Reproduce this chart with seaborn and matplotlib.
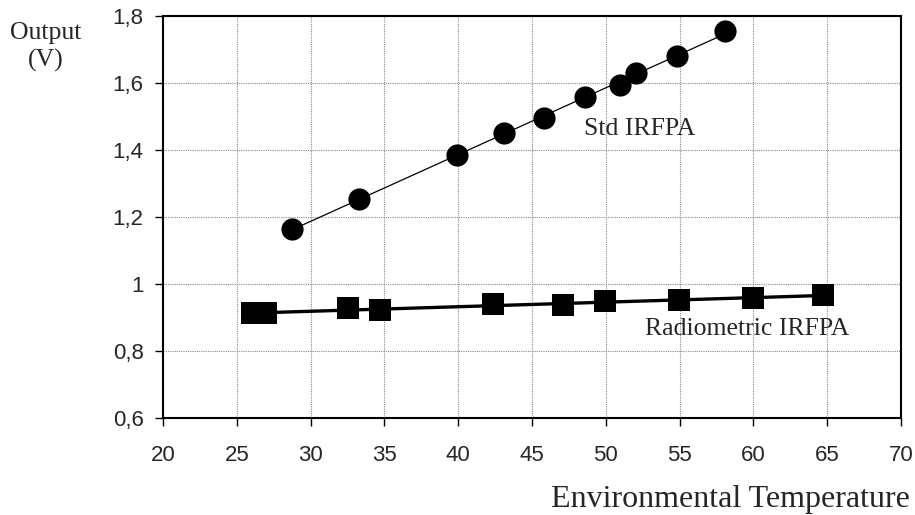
import numpy as np
import pandas as pd
import matplotlib
matplotlib.use("Agg")
import matplotlib.pyplot as plt
import seaborn as sns

# ---- data ----
std_temp = [28.75, 33.25, 39.93, 43.12, 45.8, 48.6, 50.94, 52.05, 54.82, 58.08]
std_out = [1.164, 1.254, 1.384, 1.450, 1.497, 1.557, 1.594, 1.630, 1.682, 1.754]
rad_temp = [26.0, 26.96, 32.56, 34.71, 42.34, 47.07, 49.93, 54.99, 59.97, 64.7]
rad_out = [0.912, 0.912, 0.928, 0.921, 0.941, 0.936, 0.949, 0.953, 0.957, 0.966]
x_ticks = [20, 25, 30, 35, 40, 45, 50, 55, 60, 65, 70]
y_ticks = [0.6, 0.8, 1.0, 1.2, 1.4, 1.6, 1.8]
y_tick_labels = ["0,6", "0,8", "1", "1,2", "1,4", "1,6", "1,8"]
std_label = "Std IRFPA"
rad_label = "Radiometric IRFPA"
x_title = "Environmental Temperature"
y_title = "Output\n(V)"

df_std = pd.DataFrame({"temp": std_temp, "out": std_out})
df_rad = pd.DataFrame({"temp": rad_temp, "out": rad_out})

sns.set_style("white")
plt.rcParams["font.family"] = ["Liberation Sans", "DejaVu Sans"]

fig = plt.figure(figsize=(9.15, 5.15), dpi=100)
ax = fig.add_axes([163 / 915, 1 - 418 / 515, (901 - 163) / 915, (418 - 16) / 515])

# trend lines
sns.regplot(data=df_std, x="temp", y="out", ax=ax, scatter=False, ci=None,
            truncate=True, line_kws=dict(color="black", lw=0.9, zorder=3))
sns.regplot(data=df_rad, x="temp", y="out", ax=ax, scatter=False, ci=None,
            truncate=True, line_kws=dict(color="black", lw=2.4, zorder=3))

# markers
sns.scatterplot(data=df_std, x="temp", y="out", ax=ax, marker="o", s=255,
                color="black", edgecolor="black", linewidth=0, zorder=4)
sns.scatterplot(data=df_rad, x="temp", y="out", ax=ax, marker="s", s=245,
                color="black", edgecolor="black", linewidth=0, zorder=4)

ax.set_xlim(20, 70)
ax.set_ylim(0.6, 1.8)
ax.set_xticks(x_ticks)
ax.set_xticklabels([str(t) for t in x_ticks])
ax.set_yticks(y_ticks)
ax.set_yticklabels(y_tick_labels)
ax.set_xlabel("")
ax.set_ylabel("")

ax.grid(True, which="major", color="#8a8a8a", linestyle=(0, (1, 1)), linewidth=0.8)
ax.set_axisbelow(True)
for sp in ax.spines.values():
    sp.set_visible(True)
    sp.set_color("black")
    sp.set_linewidth(1.5)

ax.tick_params(axis="x", direction="out", length=5.5, width=1, color="black",
               bottom=True, pad=14, labelsize=16)
ax.tick_params(axis="y", direction="out", length=6, width=1, color="black",
               left=True, pad=8, labelsize=16)

serif = ["Liberation Serif", "DejaVu Serif"]
ax.text(48.5, 1.463, std_label, ha="left", va="center", fontsize=18.5, family=serif)
ax.text(52.66, 0.867, rad_label, ha="left", va="center", fontsize=18.5, family=serif)

fig.text(910 / 915, 1 - 499 / 515, x_title, ha="right", va="center",
         fontsize=23, family=serif)
fig.text(46 / 915, 1 - 47 / 515, y_title, ha="center", va="center",
         fontsize=18.5, family=serif, linespacing=1.3, multialignment="center")

fig.savefig("out.png", dpi=100)
